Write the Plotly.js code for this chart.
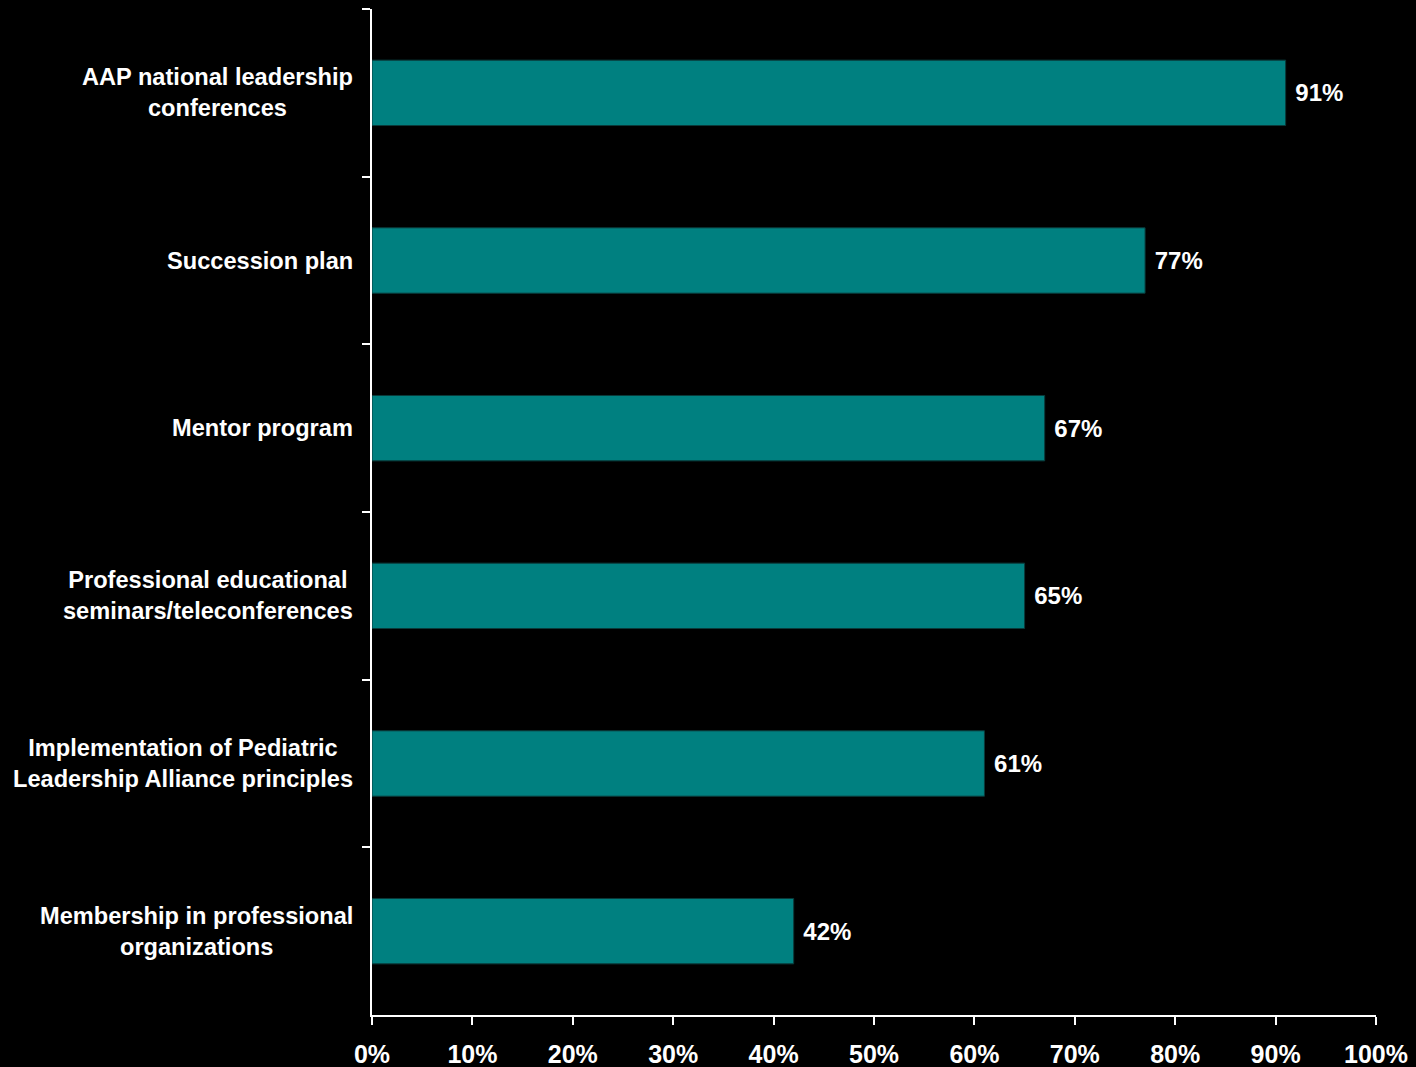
<!DOCTYPE html>
<html>
<head>
<meta charset="utf-8">
<script src="https://cdn.plot.ly/plotly-3.0.1.min.js"></script>
<style>html,body{margin:0;padding:0;background:#000;}</style>
</head>
<body>
<div id="chart" style="width:1416px;height:1067px;"></div>
<script>
const categories = [
  "AAP national leadership<br>conferences",
  "Succession plan",
  "Mentor program",
  "Professional educational<br>seminars/teleconferences",
  "Implementation of Pediatric<br>Leadership Alliance principles",
  "Membership in professional<br>organizations"
];
const values = [91, 77, 67, 65, 61, 42];
const labels = ["91%", "77%", "67%", "65%", "61%", "42%"];
const xTickVals = [0, 10, 20, 30, 40, 50, 60, 70, 80, 90, 100];
const xTickText = ["0%", "10%", "20%", "30%", "40%", "50%", "60%", "70%", "80%", "90%", "100%"];

const family = "Liberation Sans, Arial, sans-serif";
const font = {family: family, size: 24, color: "#ffffff", weight: "bold"};
const yFont = {family: family, size: 23.6, color: "#ffffff", weight: "bold"};
const xFont = {family: family, size: 25, color: "#ffffff", weight: "bold"};

const plotLeft = 372, plotWidth = 1416 - 372 - 40;
const annotations = categories.map(c => ({
  text: c,
  xref: "paper",
  yref: "y",
  x: (355 - plotLeft) / plotWidth,
  y: c,
  xanchor: "right",
  yanchor: "middle",
  align: "center",
  showarrow: false,
  font: yFont
}));

Plotly.newPlot("chart", [{
  type: "bar",
  orientation: "h",
  y: categories,
  x: values,
  text: labels.map(t => "\u00a0" + t),
  textposition: "outside",
  cliponaxis: false,
  textfont: font,
  marker: {color: "#008080", line: {color: "#0a3a3a", width: 1}},
  hoverinfo: "none"
}], {
  width: 1416, height: 1067,
  paper_bgcolor: "#000000",
  plot_bgcolor: "#000000",
  margin: {l: 372, r: 40, t: 9, b: 52},
  bargap: 0.61,
  showlegend: false,
  font: font,
  annotations: annotations,
  xaxis: {
    range: [0, 100],
    tickvals: xTickVals,
    ticktext: xTickText,
    ticks: "outside",
    ticklen: 8,
    tickwidth: 2,
    tickcolor: "#ffffff",
    showline: true,
    linecolor: "#ffffff",
    linewidth: 2,
    showgrid: false,
    zeroline: false,
    tickfont: xFont,
    ticklabelstandoff: 8,
    fixedrange: true
  },
  yaxis: {
    type: "category",
    autorange: "reversed",
    tickson: "boundaries",
    ticks: "outside",
    ticklen: 8,
    tickwidth: 2,
    tickcolor: "#ffffff",
    showline: true,
    linecolor: "#ffffff",
    linewidth: 2,
    showgrid: false,
    zeroline: false,
    showticklabels: false,
    fixedrange: true
  }
}, {displayModeBar: false, staticPlot: true});
</script>
</body>
</html>
